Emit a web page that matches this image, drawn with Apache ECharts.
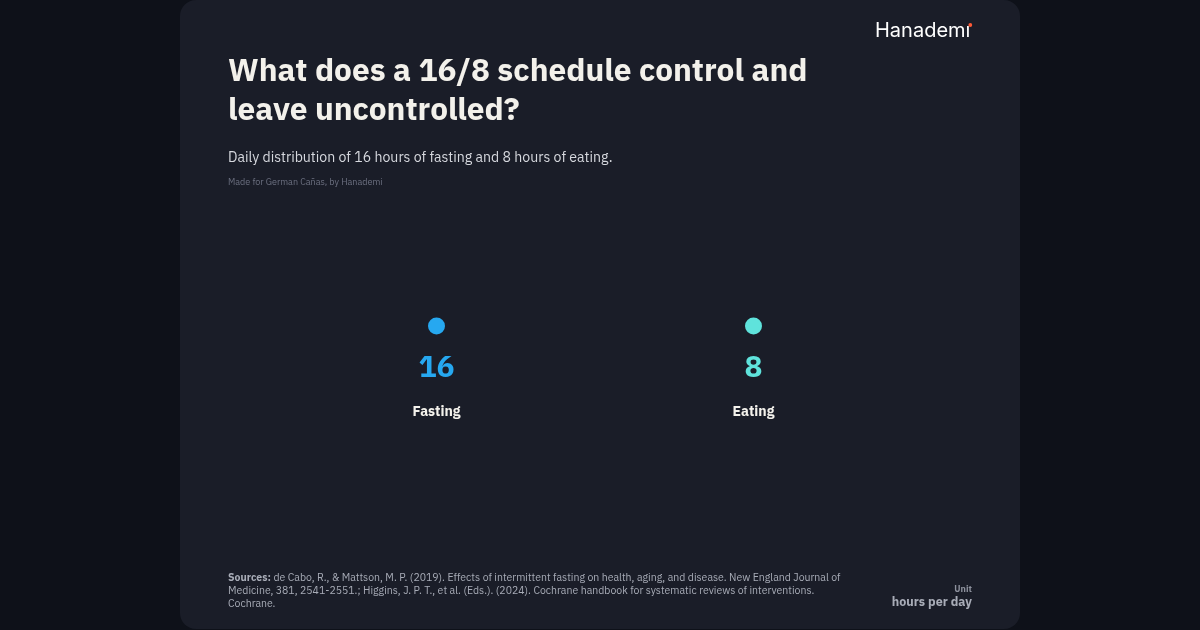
<!DOCTYPE html>
<html><head><meta charset="utf-8">
<script src="https://cdn.jsdelivr.net/npm/echarts@6/dist/echarts.min.js"></script>
<style>html,body{margin:0;padding:0;background:#0e1119;}#c{width:1200px;height:630px;}</style>
</head><body><div id="c"></div>
<script>
const categories = ["Fasting", "Eating"];
const hours = [16, 8];
const colors = ["#26a8f0", "#5fe3dc"];
const unitLabel = "hours per day";

const FONT = "'IBM Plex Sans', 'Noto Sans', sans-serif";
const chart = echarts.init(document.getElementById('c'), null, {renderer: 'canvas'});

const seriesData = categories.map((c, i) => ({
  value: [c, 0, hours[i]],
  itemStyle: {color: colors[i], opacity: 1},
  label: {
    show: true, position: 'bottom', distance: 14,
    formatter: p => '{v|' + p.value[2] + '}\n{n|' + p.value[0] + '}',
    rich: {
      v: {fontFamily: FONT, fontSize: 30, fontWeight: 'bold', color: colors[i], lineHeight: 40, align: 'center'},
      n: {fontFamily: FONT, fontSize: 14, fontWeight: 'bold', color: '#f4f2ec', lineHeight: 46, align: 'center'}
    }
  }
}));

chart.setOption({
  backgroundColor: '#0e1119',
  animation: false,
  grid: {left: 278, right: 288, top: 300, height: 52},
  xAxis: {type: 'category', data: categories, show: false, boundaryGap: true},
  yAxis: {type: 'value', min: -1, max: 1, show: false},
  graphic: [
    {type: 'rect', z: -10, shape: {x: 180, y: 0, width: 840, height: 629, r: 16}, style: {fill: '#1a1d28'}},
    {type: 'text', left: 875, top: 21, style: {text: 'Hanadem\u0131', fontFamily: "Inter, 'Liberation Sans', sans-serif", fontSize: 20, fill: '#ffffff'}},
    {type: 'circle', z: 10, shape: {cx: 970.3, cy: 25, r: 1.9}, style: {fill: '#ff5a36'}},
    {type: 'text', left: 228, top: 52, style: {text: 'What does a 16/8 schedule control and\nleave uncontrolled?', fontFamily: FONT, fontSize: 31.6, fontWeight: 'bold', lineHeight: 39, fill: '#f3f1eb'}},
    {type: 'text', left: 228, top: 151, style: {text: 'Daily distribution of 16 hours of fasting and 8 hours of eating.', fontFamily: FONT, fontSize: 14.1, fill: '#d6d8de'}},
    {type: 'text', left: 228, top: 178, style: {text: 'Made for German Cañas, by Hanademi', fontFamily: FONT, fontSize: 9, fill: '#6c7080'}},
    {type: 'text', left: 228, top: 571, style: {
      text: '{b|Sources:} de Cabo, R., & Mattson, M. P. (2019). Effects of intermittent fasting on health, aging, and disease. New England Journal of\nMedicine, 381, 2541-2551.; Higgins, J. P. T., et al. (Eds.). (2024). Cochrane handbook for systematic reviews of interventions.\nCochrane.',
      fontFamily: FONT, fontSize: 10.5, lineHeight: 13, fill: '#a8acb7',
      rich: {b: {fontFamily: FONT, fontSize: 10.5, fontWeight: 'bold', fill: '#a8acb7', lineHeight: 13}}
    }},
    {type: 'text', right: 228, top: 585, style: {text: 'Unit', fontFamily: FONT, fontSize: 9, fontWeight: 'bold', fill: '#8d919d', align: 'right'}},
    {type: 'text', right: 228, top: 596, style: {text: unitLabel, fontFamily: FONT, fontSize: 12.5, fontWeight: 'bold', fill: '#a8acb7', align: 'right'}}
  ],
  series: [{
    type: 'scatter',
    symbol: 'circle',
    symbolSize: 17,
    itemStyle: {opacity: 1},
    emphasis: {disabled: true},
    data: seriesData
  }]
});
</script></body></html>
